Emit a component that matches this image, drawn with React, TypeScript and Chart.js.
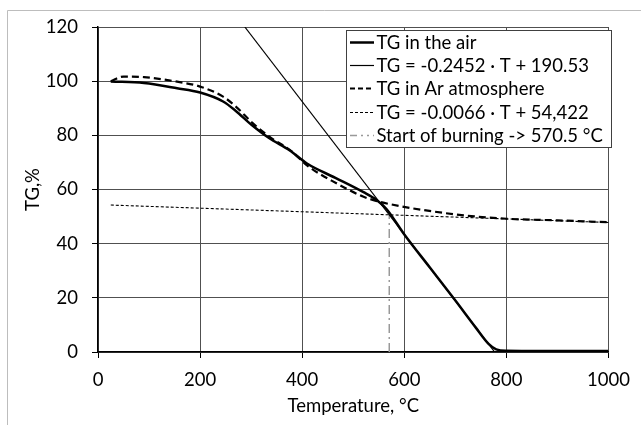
import React, { useEffect, useRef } from "react";
import { Chart, registerables } from "chart.js";

Chart.register(...registerables);

const airT = [25, 90, 155, 200, 245, 270, 300, 335, 375, 410, 465, 520, 545, 565, 600, 650, 700, 740, 765, 780, 800, 900, 1000];
const airTG = [99.9, 99.3, 97.4, 95.8, 92.5, 89, 84, 79, 74.5, 69.5, 64.3, 59, 56.2, 52.8, 43.4, 31.2, 19, 9, 3, 1, 0.5, 0.4, 0.4];

const arT = [25, 50, 90, 155, 200, 245, 270, 303, 335, 380, 410, 467, 519, 551, 596, 660, 724, 800, 900, 1000];
const arTG = [100, 101.7, 101.5, 99.8, 98, 94.3, 90.6, 84.5, 79.6, 74, 68.8, 62.3, 57.4, 55.5, 53.7, 51.8, 50.3, 49.2, 48.6, 47.9];

const fitAirT = [287.6, 777.0];
const fitAirTG = [120, 0];

const fitArT = [25, 1000];
const fitArTG = [54.26, 47.82];

const burnT = [570.5, 570.5];
const burnTG = [0, 50.6];

const labels = [
  "TG in the air",
  "TG = -0.2452 · T + 190.53",
  "TG in Ar atmosphere",
  "TG = -0.0066 · T + 54,422",
  "Start of burning -> 570.5 °C",
];

const xTicks = [0, 200, 400, 600, 800, 1000];
const yTicks = [0, 20, 40, 60, 80, 100, 120];

const FONT = "Lato";
const FS = 18.5;

function pts(xs: number[], ys: number[]) {
  return xs.map((x, i) => ({ x, y: ys[i] }));
}

const framePlugin = {
  id: "frame",
  beforeDraw(chart: any) {
    const ctx = chart.ctx;
    ctx.save();
    ctx.fillStyle = "#fff";
    ctx.fillRect(0, 0, chart.width, chart.height);
    ctx.strokeStyle = "#bdbdbd";
    ctx.lineWidth = 1;
    ctx.beginPath();
    ctx.moveTo(7.5, chart.height);
    ctx.lineTo(7.5, 10.5);
    ctx.lineTo(chart.width, 10.5);
    ctx.stroke();
    ctx.restore();
  },
};

const legendPlugin = {
  id: "customLegend",
  afterDatasetsDraw(chart: any) {
    const ctx = chart.ctx;
    const box = { l: 346.5, t: 30.5, r: 611.5, b: 147.5 };
    ctx.save();
    ctx.fillStyle = "#fff";
    ctx.fillRect(box.l, box.t, box.r - box.l, box.b - box.t);
    ctx.strokeStyle = "#404040";
    ctx.lineWidth = 1;
    ctx.strokeRect(box.l, box.t, box.r - box.l, box.b - box.t);
    const rowH = 23.3;
    chart.data.datasets.forEach((ds: any, i: number) => {
      const cy = 41.7 + i * rowH;
      ctx.save();
      ctx.strokeStyle = ds.borderColor;
      ctx.lineWidth = ds.borderWidth;
      ctx.setLineDash(ds.legendDash || ds.borderDash || []);
      ctx.beginPath();
      ctx.moveTo(350, Math.round(cy) + 0.5);
      ctx.lineTo(374, Math.round(cy) + 0.5);
      ctx.stroke();
      ctx.restore();
      ctx.fillStyle = "#000";
      ctx.font = `${FS}px ${FONT}`;
      ctx.textBaseline = "middle";
      ctx.textAlign = "left";
      ctx.fillText(ds.label, 376.5, cy + 1);
    });
    ctx.restore();
  },
};

export default function App() {
  const ref = useRef<HTMLCanvasElement | null>(null);
  useEffect(() => {
    if (!ref.current) return;
    Chart.defaults.font.family = FONT;
    Chart.defaults.color = "#000";
    const chart = new Chart(ref.current, {
      type: "line",
      data: {
        datasets: [
          {
            label: labels[0],
            data: pts(airT, airTG),
            borderColor: "#000",
            borderWidth: 2.5,
            pointRadius: 0,
            cubicInterpolationMode: "monotone",
          },
          {
            label: labels[1],
            data: pts(fitAirT, fitAirTG),
            borderColor: "#000",
            borderWidth: 1.2,
            pointRadius: 0,
          },
          {
            label: labels[2],
            data: pts(arT, arTG),
            borderColor: "#000",
            borderWidth: 2.2,
            borderDash: [7, 4],
            legendDash: [5, 3],
            pointRadius: 0,
            cubicInterpolationMode: "monotone",
          },
          {
            label: labels[3],
            data: pts(fitArT, fitArTG),
            borderColor: "#000",
            borderWidth: 1.1,
            borderDash: [3, 2],
            pointRadius: 0,
          },
          {
            label: labels[4],
            data: pts(burnT, burnTG),
            borderColor: "#999",
            borderWidth: 1.5,
            borderDash: [9, 4, 2, 4],
            legendDash: [7, 4, 2, 4, 2, 4],
            pointRadius: 0,
          },
        ] as any,
      },
      options: {
        animation: false,
        responsive: false,
        maintainAspectRatio: false,
        layout: { padding: { left: 0, top: 27, right: 25, bottom: 0 } },
        plugins: {
          legend: { display: false },
          tooltip: { enabled: false },
        },
        scales: {
          x: {
            type: "linear",
            min: 0,
            max: 1000,
            afterBuildTicks: (s: any) => {
              s.ticks = xTicks.map((v) => ({ value: v }));
            },
            afterFit: (s: any) => {
              s.height = 73;
            },
            ticks: {
              font: { size: FS, family: FONT },
              color: "#000",
              padding: 11,
              maxRotation: 0,
              callback: (v: any) => String(v),
            },
            grid: { color: "#505050", lineWidth: 1, tickColor: "#000", tickLength: 6 },
            border: { color: "#000", width: 1.5 },
            title: {
              display: true,
              text: "Temperature, °C",
              font: { size: FS, family: FONT },
              color: "#000",
              padding: { top: 0, bottom: 8 },
            },
          },
          y: {
            type: "linear",
            min: 0,
            max: 120,
            afterBuildTicks: (s: any) => {
              s.ticks = yTicks.map((v) => ({ value: v }));
            },
            afterFit: (s: any) => {
              s.width = 98;
            },
            ticks: {
              font: { size: FS, family: FONT },
              color: "#000",
              padding: 14,
              callback: (v: any) => String(v),
            },
            grid: { color: "#505050", lineWidth: 1, tickColor: "#000", tickLength: 6 },
            border: { color: "#000", width: 1.5 },
            title: {
              display: true,
              text: "TG,%",
              font: { size: FS, family: FONT },
              color: "#000",
              padding: { top: 22, bottom: 0 },
            },
          },
        },
      },
      plugins: [framePlugin, legendPlugin],
    });
    return () => chart.destroy();
  }, []);
  return (
    <div style={{ position: "fixed", left: 0, top: 0, width: 641, height: 425 }}>
      <canvas ref={ref} width={641} height={425} style={{ display: "block", width: 641, height: 425 }} />
    </div>
  );
}
